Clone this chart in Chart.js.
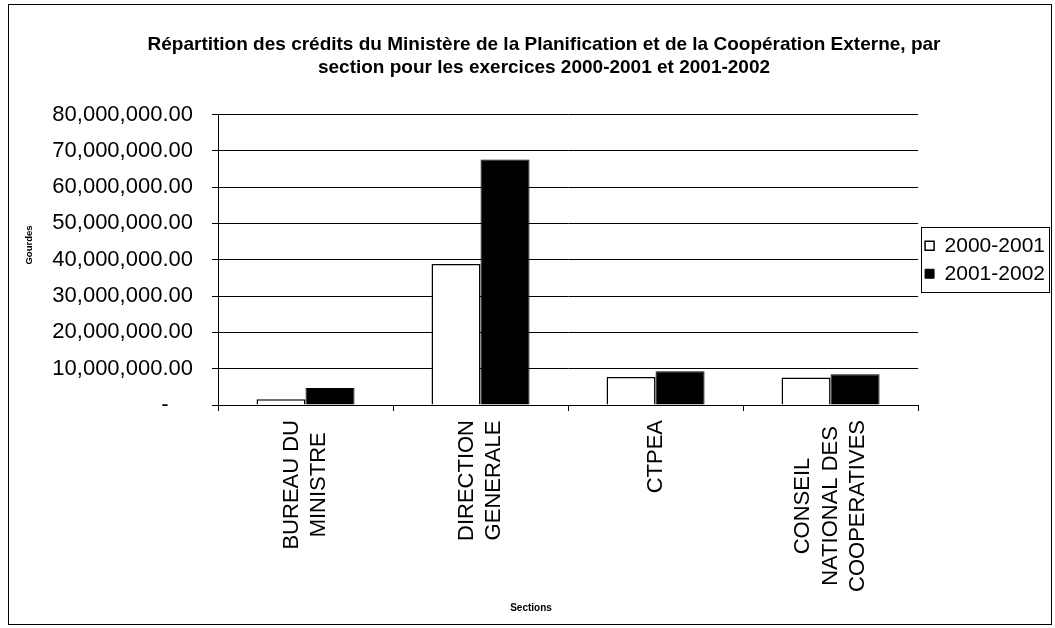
<!DOCTYPE html>
<html>
<head>
<meta charset="utf-8">
<script src="https://cdn.jsdelivr.net/npm/chart.js@4/dist/chart.umd.min.js"></script>
<style>
  html, body { margin: 0; padding: 0; background: #fff; }
  #wrap { position: absolute; left: 0; top: 0; width: 1055px; height: 628px; }
</style>
</head>
<body>
<div id="wrap"><canvas id="chart"></canvas></div>
<script>
// Données
const sections = [
  ['BUREAU DU', 'MINISTRE'],
  ['DIRECTION', 'GENERALE'],
  'CTPEA',
  ['CONSEIL', 'NATIONAL DES', 'COOPERATIVES']
];
const credits2000 = [1600000, 38800000, 7700000, 7600000];
const credits2001 = [4700000, 67600000, 9300000, 8500000];
const yTicks = [0, 10000000, 20000000, 30000000, 40000000, 50000000, 60000000, 70000000, 80000000];

const FONT = 'Arial, "Liberation Sans", sans-serif';

// cadre extérieur, cadre de la légende, titres des axes, étiquettes centrées
const framePlugin = {
  id: 'frame',
  beforeDraw(chart) {
    const ctx = chart.ctx;
    ctx.save();
    ctx.fillStyle = '#fff';
    ctx.fillRect(0, 0, chart.width, chart.height);
    ctx.strokeStyle = '#000';
    ctx.lineWidth = 1;
    ctx.strokeRect(8.5, 4.5, 1043, 620);

    // les lignes des étiquettes de catégorie sont centrées comme dans Excel
    const items = chart.scales.x.getLabelItems();
    items.forEach(it => {
      if (it._centered) return;
      it._centered = true;
      const lines = Array.isArray(it.label) ? it.label : [it.label];
      ctx.font = it.font.string;
      const w = Math.max(...lines.map(s => ctx.measureText(s).width));
      it.options.translation[0] -= (lines.length - 1) / 2 * it.font.lineHeight;
      it.options.translation[1] += w / 2;
      it.options.textAlign = 'center';
    });
    ctx.restore();
  },
  afterDraw(chart) {
    const ctx = chart.ctx;
    ctx.save();
    const hb = chart.legend.legendHitBoxes;
    if (hb && hb.length) {
      const l = Math.min(...hb.map(h => h.left)) - 4;
      const r = Math.max(...hb.map(h => h.left + h.width)) + 4;
      const t = hb[0].top - 8;
      const b = hb[hb.length - 1].top + hb[hb.length - 1].height + 8;
      ctx.strokeStyle = '#000';
      ctx.lineWidth = 1;
      ctx.strokeRect(Math.round(l) + 0.5, Math.round(t) + 0.5, Math.round(r - l), Math.round(b - t));
    }
    ctx.fillStyle = '#000';
    ctx.textAlign = 'center';
    ctx.textBaseline = 'middle';
    ctx.font = 'bold 10px ' + FONT;
    ctx.fillText('Sections', 531, 608);
    ctx.translate(29, 245);
    ctx.rotate(-Math.PI / 2);
    ctx.font = 'bold 9.5px ' + FONT;
    ctx.fillText('Gourdes', 0, 0);
    ctx.restore();
  }
};

const chart = new Chart(document.getElementById('chart'), {
  type: 'bar',
  data: {
    labels: sections,
    datasets: [{
      label: '2000-2001',
      data: credits2000,
      backgroundColor: '#ffffff',
      borderColor: '#000000',
      borderWidth: 1.5
    }, {
      label: '2001-2002',
      data: credits2001,
      backgroundColor: '#000000',
      borderColor: '#000000',
      borderWidth: 1
    }]
  },
  options: {
    responsive: true,
    maintainAspectRatio: false,
    animation: false,
    layout: { padding: { left: 33, right: 0, top: 0, bottom: 0 } },
    datasets: { bar: { barPercentage: 1, categoryPercentage: 0.56 } },
    plugins: {
      title: {
        display: true,
        text: ['Répartition des crédits du Ministère de la Planification et de la Coopération Externe, par',
               'section pour les exercices 2000-2001 et 2001-2002'],
        color: '#000',
        font: { family: FONT, size: 19, weight: 'bold', lineHeight: 1.21 },
        padding: { top: 33.5, bottom: 35 }
      },
      legend: {
        position: 'right',
        fullSize: false,
        labels: {
          color: '#000',
          boxWidth: 9,
          boxHeight: 9,
          padding: 7,
          font: { family: FONT, size: 21 }
        }
      },
      tooltip: { enabled: false }
    },
    scales: {
      x: {
        grid: { display: true, drawOnChartArea: false, drawTicks: true, tickLength: 6, color: '#000' },
        border: { display: true, color: '#000', width: 1 },
        ticks: {
          color: '#000',
          minRotation: 90,
          maxRotation: 90,
          autoSkip: false,
          padding: 9,
          font: { family: FONT, size: 22, lineHeight: 1.25 }
        },
        afterFit(scale) { scale.height = 628 - 405; }
      },
      y: {
        min: 0,
        max: 80000000,
        grid: { color: '#000', lineWidth: 1, tickLength: 6 },
        border: { display: true, color: '#000', width: 1 },
        afterBuildTicks(scale) { scale.ticks = yTicks.map(v => ({ value: v })); },
        ticks: {
          color: '#000',
          padding: 19,
          font: { family: FONT, size: 22 },
          callback: v => v === 0 ? '-    ' : v.toLocaleString('en-US', { minimumFractionDigits: 2, maximumFractionDigits: 2 })
        },
        afterFit(scale) { scale.width = 218 - 33; }
      }
    }
  },
  plugins: [framePlugin]
});
</script>
</body>
</html>
